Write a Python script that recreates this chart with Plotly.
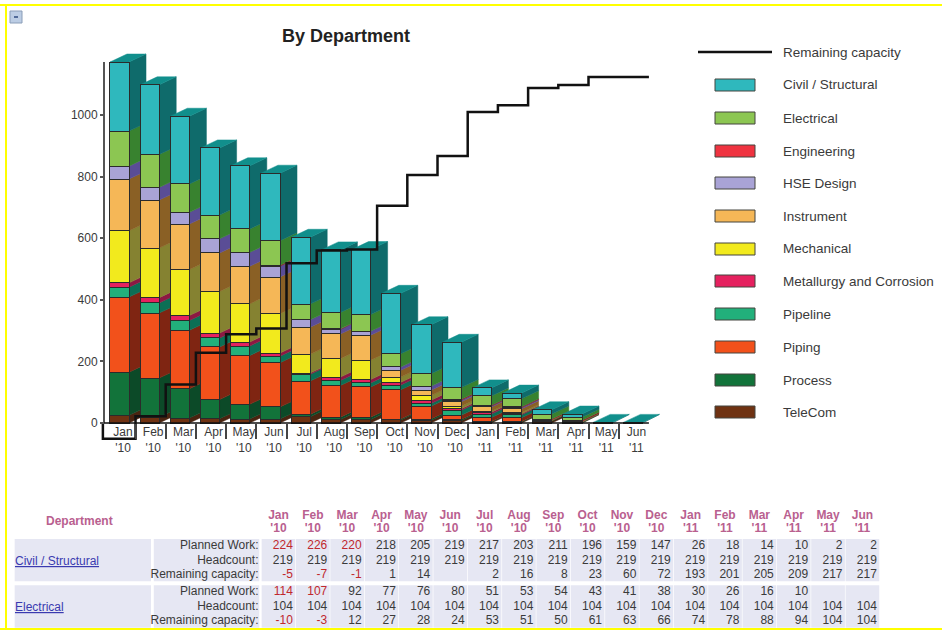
import plotly.graph_objects as go

W, H = 942, 630
months = ["Jan<br>'10","Feb<br>'10","Mar<br>'10","Apr<br>'10","May<br>'10","Jun<br>'10","Jul<br>'10","Aug<br>'10","Sep<br>'10",
          "Oct<br>'10","Nov<br>'10","Dec<br>'10","Jan<br>'11","Feb<br>'11","Mar<br>'11","Apr<br>'11","May<br>'11","Jun<br>'11"]
telecom = [25,19,16,14,13,13,20,11,11,10,8,7,3,3,6,1,None,None]
process = [140,127,95,62,48,39,8,8,8,3,5,4,2,2,2,2,None,None]
piping = [244,211,190,171,158,144,108,103,98,95,41,14,13,12,None,None,None,None]
pipeline = [32,33,32,29,31,21,22,16,13,15,9,16,11,10,None,None,None,None]
metallurgy = [14,17,16,16,13,10,4,11,11,9,11,5,6,3,None,None,None,None]
mechanical = [169,161,149,135,124,128,61,60,63,17,15,8,3,4,None,None,None,None]
instrument = [168,156,148,125,122,119,88,80,81,22,17,15,14,12,2,2,None,None]
hse = [42,41,38,46,45,35,24,15,13,11,13,5,3,4,None,None,None,None]
engineering = [None,None,None,None,None,3,None,2,None,None,None,3,3,3,3,4,None,None]
civil_planned = [224,226,220,218,205,219,217,203,211,196,159,147,26,18,14,10,2,2]
civil_head = [219]*18
civil_remain = [-5,-7,-1,1,14,None,2,16,8,23,60,72,193,201,205,209,217,217]
elec_planned = [114,107,92,77,76,80,51,53,54,43,41,38,30,26,16,10,None,None]
elec_head = [104]*18
elec_remain = [-10,-3,12,27,28,24,53,51,50,61,63,66,74,78,88,94,104,104]
capacity = [-51,22,125,228,288,307,519,560,563,705,805,867,1010,1032,1088,1097,1123,1123]
ytick_vals = [0,200,400,600,800,1000]

# name, values, front colour, side colour (bottom of the stack first)
stack = [
    ("TeleCom", telecom, "#6f3212", "#4a2410"),
    ("Process", process, "#12733a", "#0c4a28"),
    ("Piping", piping, "#f2511b", "#7f2512"),
    ("Pipeline", pipeline, "#22b07b", "#0c6f55"),
    ("Metallurgy and Corrosion", metallurgy, "#e5215f", "#8d1843"),
    ("Mechanical", mechanical, "#f2ea1d", "#858231"),
    ("Instrument", instrument, "#f5b757", "#8a6025"),
    ("HSE Design", hse, "#a9a3d6", "#5a4d96"),
    ("Engineering", engineering, "#ef3340", "#8a1c22"),
    ("Electrical", elec_planned, "#8cc652", "#38822f"),
    ("Civil / Structural", civil_planned, "#2fb8bd", "#0f6b6b"),
]
legend_y = {"Civil / Structural":85,"Electrical":118,"Engineering":151,"HSE Design":183,"Instrument":216,"Mechanical":249,
            "Metallurgy and Corrosion":281,"Pipeline":314,"Piping":347,"Process":380,"TeleCom":412}
DARK = "#2b2b2b"
BAR_W, DX, DY = 0.63, 0.563, 26
n = len(months)
xs = list(range(n))
fig = go.Figure()

# pixel frame of the chart: category i is centred at 119.5 + 30.2 i, value v at 423 - 0.308 v
def fx(p): return p/W
def fy(p): return 1-p/H
def xv(p): return (p-119.5)/30.2
def yv(p): return (423-p)/0.308
AX_L, AX_T = 100, 50
AX_R, AX_B = 665, 445
AXIS_X = xv(104)
BAND = 0.53
LINE_START = -0.55

# depth faces (side of each segment, and one top per column)
tops = [0.0]*n
for name, vals, col, side in stack:
    px_, py_ = [], []
    for i in xs:
        v = vals[i] or 0
        if not v:
            continue
        lo, hi = tops[i], tops[i]+v
        xr = i+BAR_W/2
        px_ += [xr, xr+DX, xr+DX, xr, xr, None]
        py_ += [lo, lo+DY, hi+DY, hi, lo, None]
        tops[i] = hi
    fig.add_trace(go.Scatter(x=px_, y=py_, mode="lines", fill="toself", fillcolor=side,
                             line=dict(color=side, width=0.5), hoverinfo="skip", showlegend=False))
tx, ty = [], []
for i in xs:
    xl, xr = i-BAR_W/2, i+BAR_W/2
    tx += [xl, xr, xr+DX, xl+DX, xl, None]
    ty += [tops[i], tops[i], tops[i]+DY, tops[i]+DY, tops[i], None]
fig.add_trace(go.Scatter(x=tx, y=ty, mode="lines", fill="toself", fillcolor="#118f8c",
                         line=dict(color="#118f8c", width=0.5), hoverinfo="skip", showlegend=False))

# front faces
for name, vals, col, side in stack:
    fig.add_trace(go.Bar(x=xs, y=vals, name=name, width=BAR_W, marker=dict(color=col, line=dict(color=DARK, width=1)),
                         xaxis="x2", yaxis="y2", showlegend=False))

# axis lines that stop short of the plotting frame
fig.add_trace(go.Scatter(x=[AXIS_X, AXIS_X], y=[0, max(tops)], mode="lines", line=dict(color="#555555", width=2),
                         xaxis="x2", yaxis="y2", hoverinfo="skip", showlegend=False))
fig.add_trace(go.Scatter(x=[AXIS_X, n-1+BAND], y=[0, 0], mode="lines", line=dict(color="#111111", width=1.5),
                         xaxis="x2", yaxis="y2", hoverinfo="skip", showlegend=False))

# stepped line
lx, ly = [LINE_START], [0]
for i, c in zip(xs, capacity):
    lx += [LINE_START if i == 0 else i-1+BAND, i+BAND]
    ly += [c, c]
fig.add_trace(go.Scatter(x=lx, y=ly, mode="lines", name="Remaining capacity", line=dict(color="#111111", width=2.5),
                         xaxis="x2", yaxis="y2", showlegend=False))

# table
shapes, annotations = [], []
TEXT = "#3a3a3a"
RED = "#c0282d"
PINK = "#b9608f"
TEXT_DY = 0.07
def tx_trace(x, y, text, color, pos, size=12, bold=False):
    fig.add_trace(go.Scatter(x=x, y=[v+TEXT_DY for v in y], text=text, mode="text", textposition=pos,
                             textfont=dict(family="Liberation Sans", size=size, color=color,
                                           weight="bold" if bold else "normal"),
                             xaxis="x3", yaxis="y3", hoverinfo="skip", showlegend=False))

row_labels = ["Planned Work:", "Headcount:", "Remaining capacity:"]
blocks = [("Civil / Structural", 0.0, civil_planned, civil_head, civil_remain),
          ("Electrical", 3.2, elec_planned, elec_head, elec_remain)]
for dept, r0, pl, hd, rm in blocks:
    top, bottom = r0-0.42, r0+2.5
    bg = "#e6e7f3"
    for a, b in [(-8.1, -4.13), (-4.05, -0.98)]:
        shapes.append(dict(type="rect", xref="x3", yref="y3", x0=a, x1=b, y0=top, y1=bottom, fillcolor=bg, line_width=0, layer="below"))
    for k in xs:
        shapes.append(dict(type="rect", xref="x3", yref="y3", x0=k-0.91, x1=k+0.07, y0=top, y1=bottom, fillcolor=bg, line_width=0, layer="below"))
    tx_trace([-1]*3, [r0, r0+1, r0+2], row_labels, TEXT, "middle left")
    for off, vals in enumerate([pl, hd, rm]):
        cols = []
        for k, v in enumerate(vals):
            if off == 0:
                cols.append(RED if (v or 0) > hd[k] else TEXT)
            elif off == 2:
                cols.append(RED if (v or 0) < 0 else TEXT)
            else:
                cols.append(TEXT)
        tx_trace(xs, [r0+off]*n, ["" if v is None else str(v) for v in vals], cols, "middle left")
    annotations.append(dict(xref="x3", yref="y3", x=-8.15, y=r0+1+TEXT_DY, text=f"<u>{dept}</u>", showarrow=False, xanchor="left", yanchor="middle",
                            font=dict(family="Liberation Sans", size=12, color="#3a3ab0")))
for k, m in enumerate(months):
    a, b = m.split("<br>")
    tx_trace([k-0.42]*2, [-2.1, -1.2], [a, b], PINK, "middle center", bold=True)
annotations.append(dict(xref="x3", yref="y3", x=-6.2, y=-1.65, text="<b>Department</b>", showarrow=False, yanchor="middle",
                        font=dict(family="Liberation Sans", size=12, color=PINK)))

# custom key
shapes.append(dict(type="line", xref="paper", yref="paper", x0=fx(698), x1=fx(772), y0=fy(52), y1=fy(52), line=dict(color="#111111", width=2.5)))
annotations.append(dict(xref="paper", yref="paper", x=fx(781), y=fy(52), text="Remaining capacity", xanchor="left", yanchor="middle", showarrow=False,
                        font=dict(family="Liberation Sans", size=13.5, color=TEXT)))
for name, vals, col, side in stack:
    yy = legend_y[name]
    shapes.append(dict(type="rect", xref="paper", yref="paper", x0=fx(715), x1=fx(755), y0=fy(yy-6), y1=fy(yy+6),
                       fillcolor=col, line=dict(color="#44443f", width=1)))
    annotations.append(dict(xref="paper", yref="paper", x=fx(781), y=fy(yy), text=name, xanchor="left", yanchor="middle", showarrow=False,
                            font=dict(family="Liberation Sans", size=13.5, color=TEXT)))

# yellow frame and collapse button
for x0, x1, y0, y1 in [(0, W, 4, 6), (5, 7, 4, H), (0, W, 628, 630)]:
    shapes.append(dict(type="rect", xref="paper", yref="paper", x0=fx(x0), x1=fx(x1), y0=fy(y0), y1=fy(y1), fillcolor="#ffff00", line_width=0))
shapes.append(dict(type="rect", xref="paper", yref="paper", x0=fx(10), x1=fx(22), y0=fy(11), y1=fy(23), fillcolor="#bccde4", line=dict(color="#8a9db8", width=1)))
shapes.append(dict(type="line", xref="paper", yref="paper", x0=fx(14), x1=fx(18), y0=fy(17), y1=fy(17), line=dict(color="#2f4a80", width=1.5)))

xr_ = [xv(AX_L), xv(AX_R)]
yr_ = [yv(AX_B), yv(AX_T)]
xdom = [fx(AX_L), fx(AX_R)]
ydom = [fy(AX_B), fy(AX_T)]
fig.update_layout(
    width=W, height=H, margin=dict(l=0, r=0, t=0, b=0, autoexpand=False), paper_bgcolor="white", plot_bgcolor="rgba(0,0,0,0)",
    barmode="stack", showlegend=False, shapes=shapes, annotations=annotations,
    title=dict(text="<b>By Department</b>", x=346/W, xanchor="center", y=fy(36), yanchor="middle",
               font=dict(family="Liberation Sans", size=18, color="#222222")),
    font=dict(family="Liberation Sans", size=12, color=TEXT),
    xaxis=dict(automargin=False, domain=xdom, range=xr_, anchor="free", position=fy(423), tickvals=[i+BAND for i in xs[:-1]], showticklabels=False,
               ticks="outside", ticklen=15, tickwidth=1.5, tickcolor="#444444", showline=False, showgrid=False, zeroline=False),
    yaxis=dict(automargin=False, domain=ydom, range=yr_, anchor="free", position=fx(104), tickvals=ytick_vals, ticks="outside", ticklen=4, tickwidth=1.5,
               tickcolor="#555555", showline=False, showgrid=False, zeroline=False, tickfont=dict(size=12, color=TEXT)),
    xaxis2=dict(automargin=False, domain=xdom, range=xr_, overlaying="x", anchor="free", position=fy(423), tickvals=[i+0.116 for i in xs], ticktext=months,
                tickangle=0, ticks="", showgrid=False, zeroline=False, showline=False, tickfont=dict(size=12, color=TEXT)),
    yaxis2=dict(automargin=False, domain=ydom, range=yr_, overlaying="y", anchor="x2", visible=False),
    xaxis3=dict(automargin=False, domain=[0, 1], range=[-8.527, 18.897], anchor="y3", visible=False),
    yaxis3=dict(automargin=False, domain=[0, 125/H], range=[5.862, -2.759], anchor="x3", visible=False),
)
fig.write_html("out.html", config=dict(displayModeBar=False), post_script="document.body.style.margin='0';")
